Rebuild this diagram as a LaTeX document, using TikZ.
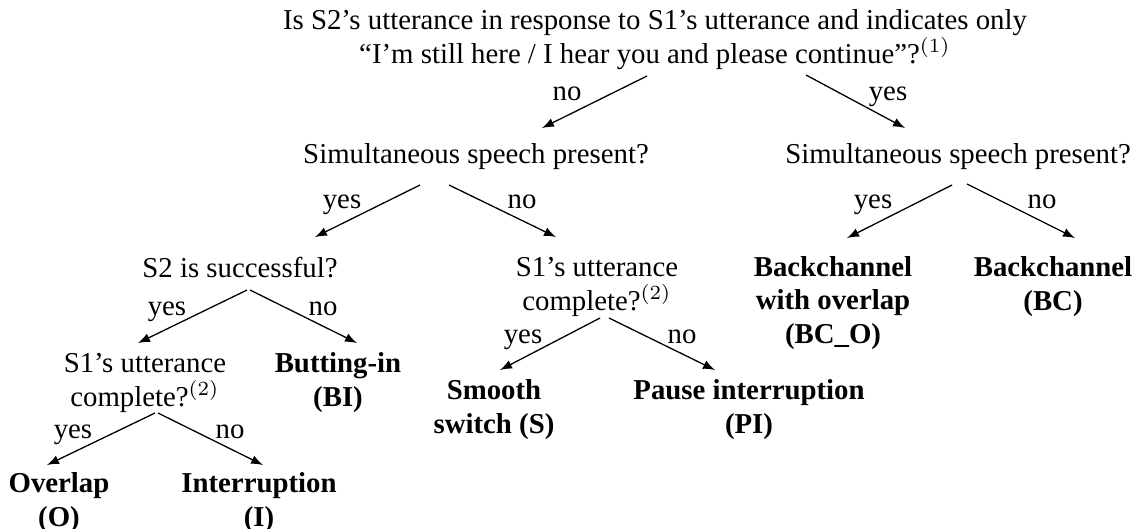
\documentclass[tikz,border=0pt]{standalone}
\usepackage{fontspec}
\setmainfont{Liberation Serif}
\usetikzlibrary{arrows, calc}

\begin{document}
\begin{tikzpicture}[x=0.3472pt, y=-0.3472pt,
    every node/.style={inner sep=0pt, anchor=base, font=\fontsize{10}{11.6}\selectfont},
    question/.style={align=center},
    leaf/.style={align=center, font=\fontsize{10}{11.6}\selectfont\bfseries},
    arrow/.style={->, >=latex, line width=0.45pt}
]
    \useasboundingbox (0,0) rectangle (1136,528);

    % Questions (placed at the baseline of their last line)
    \node[question] (root) at (655, 63) {Is S2's utterance in response to S1's utterance and indicates only\\``I'm still here / I hear you and please continue''?$^{(1)}$};
    \node[question] (simL) at (476, 163) {Simultaneous speech present?};
    \node[question] (simR) at (958, 163) {Simultaneous speech present?};
    \node[question] (succ) at (240, 277) {S2 is successful?};
    \node[question] (cmpM) at (597, 310) {S1's utterance\\complete?$^{(2)}$};
    \node[question] (cmpL) at (145, 406) {S1's utterance\\complete?$^{(2)}$};

    % Outcomes
    \node[leaf] (bco) at (833, 343) {Backchannel\\with overlap\\(BC\_O)};
    \node[leaf] (bc) at (1053, 310) {Backchannel\\(BC)};
    \node[leaf] (bi) at (338, 406) {Butting-in\\(BI)};
    \node[leaf] (smooth) at (494, 433) {Smooth\\switch (S)};
    \node[leaf] (pi) at (749, 433) {Pause interruption\\(PI)};
    \node[leaf] (ovl) at (59, 526) {Overlap\\(O)};
    \node[leaf] (intr) at (259, 526) {Interruption\\(I)};

    % Branches
    \draw[arrow] ($(root.base)+(-8,13)$) -- ($(simL.base)+(66,-35)$);
    \draw[arrow] ($(root.base)+(151,12)$) -- ($(simR.base)+(-53,-35)$);
    \draw[arrow] ($(simL.base)+(-56,22)$) -- ($(succ.base)+(75,-40)$);
    \draw[arrow] ($(simL.base)+(-27,22)$) -- ($(cmpM.base)+(-41,-73)$);
    \draw[arrow] ($(simR.base)+(-6,22)$) -- ($(bco.base)+(14,-105)$);
    \draw[arrow] ($(simR.base)+(9,21)$) -- ($(bc.base)+(22,-72)$);
    \draw[arrow] ($(succ.base)+(7,13)$) -- ($(cmpL.base)+(-7,-63)$);
    \draw[arrow] ($(succ.base)+(10,13)$) -- ($(bi.base)+(19,-63)$);
    \draw[arrow] ($(cmpM.base)+(3,8)$) -- ($(smooth.base)+(6,-63)$);
    \draw[arrow] ($(cmpM.base)+(12,8)$) -- ($(pi.base)+(-34,-63)$);
    \draw[arrow] ($(cmpL.base)+(10,7)$) -- ($(ovl.base)+(-12,-61)$);
    \draw[arrow] ($(cmpL.base)+(13,7)$) -- ($(intr.base)+(4,-61)$);

    % Branch labels
    \node (rootNo) at (567, 100) {no};
    \node (rootYes) at (888, 100) {yes};
    \node (simLYes) at (342, 208) {yes};
    \node (simLNo) at (522, 208) {no};
    \node (simRYes) at (873, 208) {yes};
    \node (simRNo) at (1042, 208) {no};
    \node (succYes) at (167, 315) {yes};
    \node (succNo) at (323, 315) {no};
    \node (cmpMYes) at (523, 343) {yes};
    \node (cmpMNo) at (682, 343) {no};
    \node (cmpLYes) at (73, 438) {yes};
    \node (cmpLNo) at (230, 438) {no};
\end{tikzpicture}
\end{document}
